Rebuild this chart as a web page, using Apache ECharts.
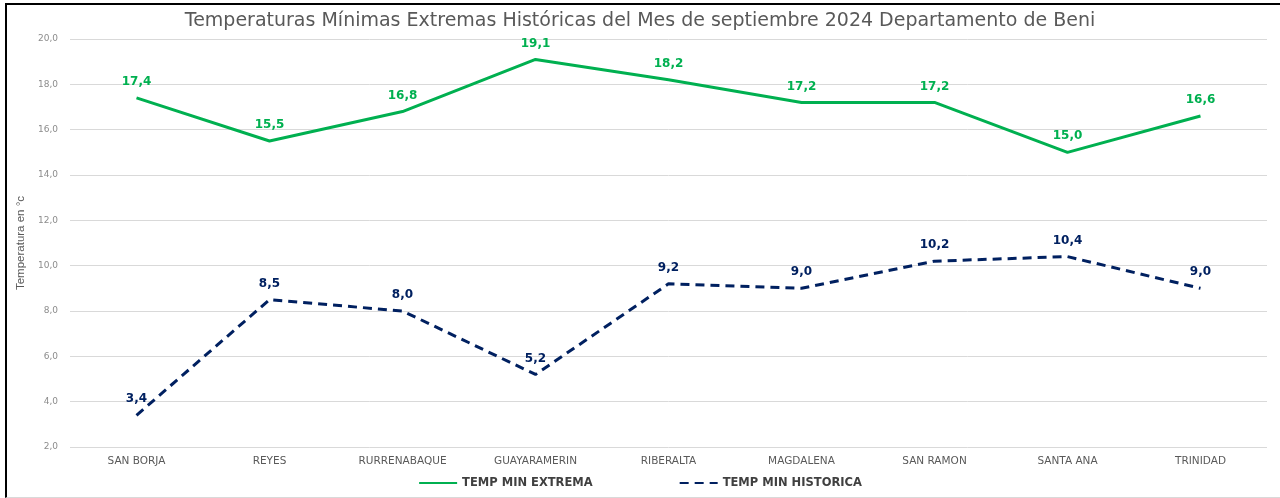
<!DOCTYPE html>
<html>
<head>
<meta charset="utf-8">
<script src="https://cdn.jsdelivr.net/npm/echarts@6/dist/echarts.min.js"></script>
<style>
  html, body { margin: 0; padding: 0; background: #fff; }
  #wrap { position: relative; width: 1280px; height: 498px; overflow: hidden; }
  #frame { position: absolute; left: 5px; top: 3px; width: 1300px; height: 492px;
    border-top: 2px solid #000; border-left: 2px solid #000; border-bottom: 1px solid #d9d9d9; }
  #chart { position: absolute; left: 0; top: 0; width: 1280px; height: 498px; }
</style>
</head>
<body>
<div id="wrap">
  <div id="frame"></div>
  <div id="chart"></div>
</div>
<script>
const estaciones = ["SAN BORJA", "REYES", "RURRENABAQUE", "GUAYARAMERIN", "RIBERALTA", "MAGDALENA", "SAN RAMON", "SANTA ANA", "TRINIDAD"];
const tempMinExtrema = [17.4, 15.5, 16.8, 19.1, 18.2, 17.2, 17.2, 15.0, 16.6];
const tempMinHistorica = [3.4, 8.5, 8.0, 5.2, 9.2, 9.0, 10.2, 10.4, 9.0];

const coma = v => v.toFixed(1).replace(".", ",");
const font = "'DejaVu Sans', Verdana, sans-serif";

const chart = echarts.init(document.getElementById("chart"), null, { renderer: "canvas" });

chart.setOption({
  animation: false,
  textStyle: { fontFamily: font },
  title: {
    text: "Temperaturas Mínimas Extremas Históricas del Mes de septiembre 2024 Departamento de Beni",
    left: "center", top: 7,
    textStyle: { color: "#595959", fontSize: 19, fontWeight: "normal", fontFamily: font }
  },
  grid: { left: 70, right: 13, top: 39, bottom: 51 },
  legend: {
    bottom: 4, left: "center", itemWidth: 38, itemHeight: 10, itemGap: 86,
    itemStyle: { opacity: 0 },
    textStyle: { color: "#404040", fontSize: 11.5, fontWeight: "bold", fontFamily: font },
    data: ["TEMP MIN EXTREMA", "TEMP MIN HISTORICA"]
  },
  xAxis: {
    type: "category", data: estaciones, boundaryGap: true,
    axisLine: { show: false }, axisTick: { show: false },
    axisLabel: { color: "#595959", fontSize: 10.5, margin: 9 }
  },
  yAxis: {
    type: "value", min: 2, max: 20, interval: 2,
    name: "Temperatura en °c", nameLocation: "middle", nameGap: 37, nameRotate: 90,
    nameTextStyle: { color: "#595959", fontSize: 11.5, fontFamily: "'Liberation Sans Narrow', 'Liberation Sans', sans-serif" },
    axisLabel: { color: "#8c8c8c", fontSize: 9, margin: 12, formatter: v => coma(v) },
    splitLine: { lineStyle: { color: "#d9d9d9", width: 1 } }
  },
  series: [
    {
      name: "TEMP MIN EXTREMA", type: "line", data: tempMinExtrema,
      symbol: "circle", symbolSize: 0, showSymbol: true,
      lineStyle: { color: "#00B050", width: 3 },
      itemStyle: { color: "#00B050" },
      label: { show: true, position: "top", distance: 10, color: "#00B050", fontWeight: "bold", fontSize: 12, formatter: p => coma(p.value) }
    },
    {
      name: "TEMP MIN HISTORICA", type: "line", data: tempMinHistorica,
      symbol: "circle", symbolSize: 0, showSymbol: true,
      lineStyle: { color: "#002060", width: 3, type: [9, 6] },
      itemStyle: { color: "#002060" },
      label: { show: true, position: "top", distance: 10, color: "#002060", fontWeight: "bold", fontSize: 12, formatter: p => coma(p.value) }
    }
  ]
});
</script>
</body>
</html>
